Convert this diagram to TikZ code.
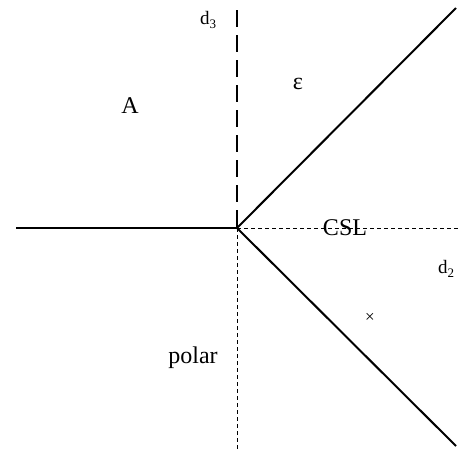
\documentclass[tikz,border=0pt]{standalone}
\usepackage{fontspec}
\setmainfont{Liberation Serif}
\begin{document}
\begin{tikzpicture}[x=1pt,y=-1pt,
  solidline/.style={line width=2pt},
  thickdash/.style={line width=2.4pt,dash pattern=on 17pt off 8pt},
  thindash/.style={line width=0.8pt,dash pattern=on 4pt off 3pt},
  lbl/.style={inner sep=0pt,font=\fontsize{24}{28}\selectfont},
  sublbl/.style={inner sep=0pt,font=\fontsize{19}{22}\selectfont}]
\useasboundingbox (0,0) rectangle (459,450);
\coordinate (O) at (237,228);
\coordinate (L) at (16,228);
\coordinate (R) at (459,228);
\coordinate (T) at (237,10);
\coordinate (B) at (237,450);
\coordinate (UR) at (456,8);
\coordinate (DR) at (456,446);
\draw[solidline] (L) -- (O);
\draw[thindash] (O) -- (R);
\draw[thickdash] (T) -- (O);
\draw[thindash] (O) -- (B);
\draw[solidline] (O) -- (UR);
\draw[solidline] (O) -- (DR);
\node[sublbl] (d3) at (208,20) {d\raisebox{-0.45ex}{\fontsize{13}{14}\selectfont 3}};
\node[sublbl] (d2) at (446,269) {d\raisebox{-0.45ex}{\fontsize{13}{14}\selectfont 2}};
\node[lbl] (eps) at (298,84) {ε};
\node[lbl] (A) at (130,106) {A};
\node[lbl] (csl) at (345,228) {CSL};
\node[lbl] (polar) at (193,358) {polar};
\node[inner sep=0pt,font=\fontsize{17}{18}\selectfont] (x) at (370,318) {×};
\end{tikzpicture}
\end{document}
